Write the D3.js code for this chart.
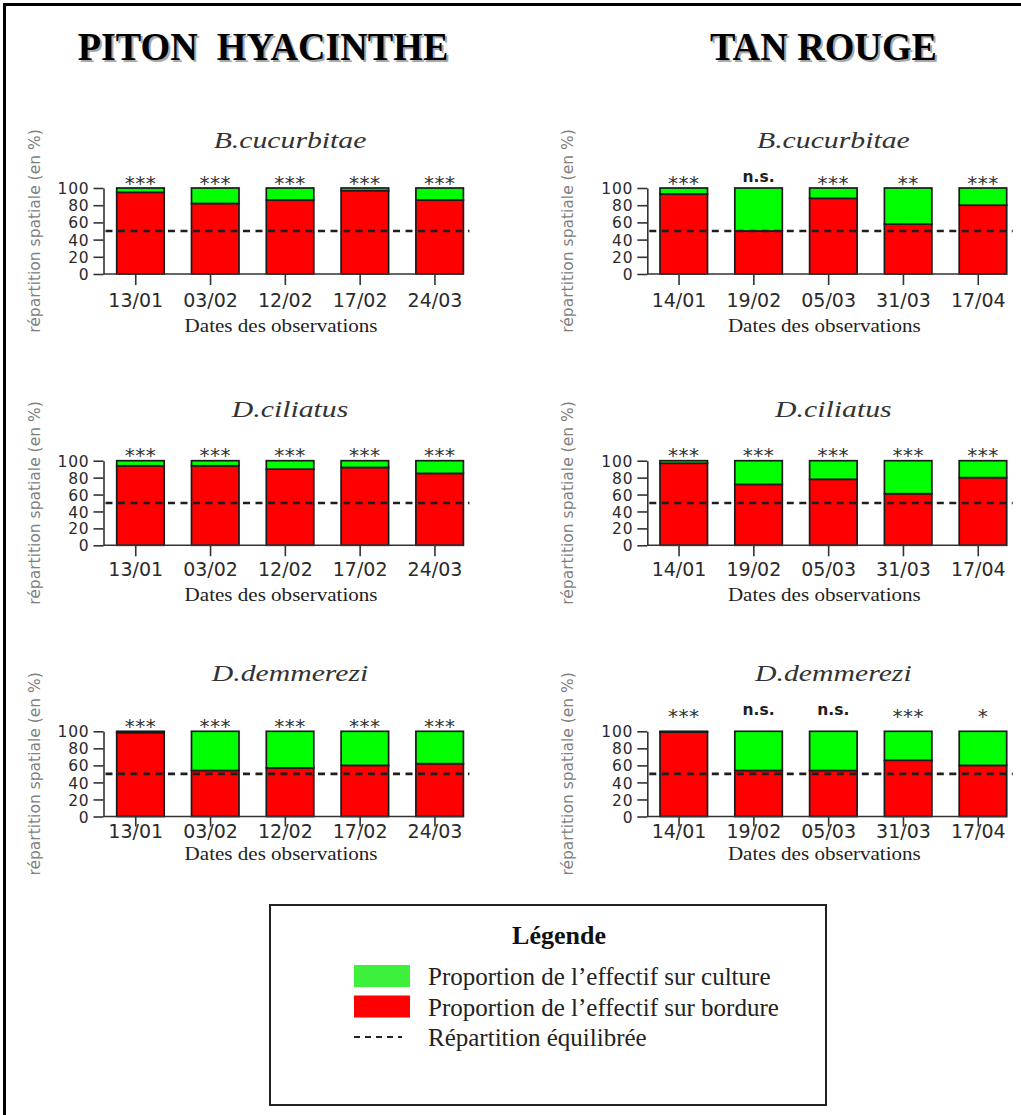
<!DOCTYPE html>
<html>
<head>
<meta charset="utf-8">
<script src="https://cdn.jsdelivr.net/npm/d3@7"></script>
<style>
  html, body { margin: 0; padding: 0; background: #fff; }
  svg { display: block; }
</style>
</head>
<body>
<script>
// ---- Data -------------------------------------------------------------
const sites = ["PITON  HYACINTHE", "TAN ROUGE"];
const species = ["B.cucurbitae", "D.ciliatus", "D.demmerezi"];
const datesPiton = ["13/01", "03/02", "12/02", "17/02", "24/03"];
const datesTan = ["14/01", "19/02", "05/03", "31/03", "17/04"];
const yTicks = [0, 20, 40, 60, 80, 100];
const balanceLevel = 50;

// Share of the population found on the border (%); the rest is on the crop
const pitonBcucurbitae = [95, 82, 86, 97, 86];
const pitonDciliatus = [94, 94, 90, 92, 85];
const pitonDdemmerezi = [98.5, 54, 57, 60, 62];
const tanBcucurbitae = [93, 50, 88, 58, 80];
const tanDciliatus = [97, 72, 78, 61, 80];
const tanDdemmerezi = [99, 54, 54, 66, 60];

// Significance of each date's test
const pitonSigBc = ["***", "***", "***", "***", "***"];
const pitonSigDc = ["***", "***", "***", "***", "***"];
const pitonSigDd = ["***", "***", "***", "***", "***"];
const tanSigBc = ["***", "n.s.", "***", "**", "***"];
const tanSigDc = ["***", "***", "***", "***", "***"];
const tanSigDd = ["***", "n.s.", "n.s.", "***", "*"];

const legendTitle = "Légende";
const legendLabels = [
  "Proportion de l\u2019effectif sur culture",
  "Proportion de l\u2019effectif sur bordure",
  "Répartition équilibrée"
];
const xAxisTitle = "Dates des observations";
const yAxisTitle = "répartition spatiale (en %)";

// ---- Styling / layout -------------------------------------------------
const W = 1021, H = 1115;
const RED = "#ff0000", GREEN = "#00ff00";
const LEGEND_GREEN = "#3cf03c";
const SANS = "'DejaVu Sans', Verdana, sans-serif";
const SERIF = "'Liberation Serif', 'Times New Roman', serif";

const columns = [
  { x0: 116.7, span: 346.7, axisX: 103.5, yTitleDx: 68.5, titleX: 263, dates: datesPiton,
    values: [pitonBcucurbitae, pitonDciliatus, pitonDdemmerezi],
    sig: [pitonSigBc, pitonSigDc, pitonSigDd], lift: [0, 0, 0] },
  { x0: 660, span: 346.7, axisX: 647.3, yTitleDx: 80, titleX: 823.5, dates: datesTan,
    values: [tanBcucurbitae, tanDciliatus, tanDdemmerezi],
    sig: [tanSigBc, tanSigDc, tanSigDd], lift: [0, 0, 10] }
];
const rows = [
  { top: 188, bottom: 274, titleDy: -39.7, tick: 11, tickLabelDy: 32.7, xTitleDy: 57.7 },
  { top: 460.7, bottom: 545.3, titleDy: -44, tick: 11, tickLabelDy: 30.4, xTitleDy: 55.4 },
  { top: 731.3, bottom: 816.5, titleDy: -50.3, tick: 10, tickLabelDy: 21, xTitleDy: 43 }
];

const svg = d3.select("body").append("svg")
  .attr("width", W).attr("height", H)
  .style("background", "#fff");

// Text that is widened horizontally around its anchor point
function wideText(parent, x, y, str, sx) {
  return parent.append("text")
    .attr("transform", `translate(${x},${y}) scale(${sx},1)`)
    .text(str);
}

// ---- Outer frame -------------------------------------------------------
svg.append("rect")
  .attr("x", 4.5).attr("y", 4.5)
  .attr("width", W + 20).attr("height", H + 20)
  .attr("fill", "none").attr("stroke", "#000").attr("stroke-width", 3);

// ---- Site headings -----------------------------------------------------
columns.forEach((col, i) => {
  [["#a8a8a8", 2, 1.5], ["#000", 0, 0]].forEach(([fill, dx, dy]) => {
    wideText(svg, col.titleX + dx, 60 + dy, sites[i], 0.93)
      .attr("text-anchor", "middle")
      .attr("font-family", SERIF).attr("font-weight", "bold")
      .attr("font-size", 41).attr("fill", fill)
      .style("white-space", "pre");
  });
});

// ---- Panels ------------------------------------------------------------
function drawPanel(col, row, si) {
  const dates = col.dates;
  const vals = col.values[si];
  const sig = col.sig[si];
  const lift = col.lift[si];
  const g = svg.append("g");

  const x = d3.scaleBand().domain(dates)
    .range([col.x0, col.x0 + col.span])
    .paddingInner(0.365).paddingOuter(0);
  // the date axis sits slightly left of the bar centres
  const xTick = x.copy().range([col.x0 - 4.7, col.x0 + col.span - 4.7]);
  const y = d3.scaleLinear().domain([0, 100]).range([row.bottom, row.top]);

  const table = dates.map((d, i) => ({ date: d, bordure: vals[i], culture: 100 - vals[i] }));
  const stacked = d3.stack().keys(["bordure", "culture"])(table);
  const colour = { bordure: RED, culture: GREEN };

  g.selectAll("g.layer").data(stacked).join("g")
    .attr("class", "layer")
    .attr("fill", d => colour[d.key])
    .selectAll("rect").data(d => d).join("rect")
    .attr("x", d => x(d.data.date))
    .attr("width", x.bandwidth())
    .attr("y", d => y(d[1]))
    .attr("height", d => y(d[0]) - y(d[1]))
    .attr("stroke", "#1a1a1a").attr("stroke-width", 1.7);

  // balanced-distribution reference line
  g.append("line")
    .attr("x1", col.axisX + 2).attr("x2", col.x0 + col.span + 6)
    .attr("y1", y(balanceLevel)).attr("y2", y(balanceLevel))
    .attr("stroke", "#1e1e1e").attr("stroke-width", 2.6)
    .attr("stroke-dasharray", "7,5.5");

  // y axis
  const ya = g.append("g").attr("transform", `translate(${col.axisX},0)`)
    .call(d3.axisLeft(y).tickValues(yTicks).tickSize(10).tickSizeOuter(0).tickPadding(4));
  ya.select(".domain").attr("stroke", "#333").attr("stroke-width", 1.6);
  ya.selectAll(".tick line").attr("stroke", "#333").attr("stroke-width", 1.6);
  ya.selectAll(".tick text")
    .attr("font-family", SANS).attr("font-size", 15.5).attr("fill", "#2a2a2a")
    .attr("letter-spacing", 0.8)
    .attr("dy", "0.36em");

  // x axis
  const xa = g.append("g").attr("transform", `translate(0,${row.bottom})`)
    .call(d3.axisBottom(xTick).tickSize(row.tick).tickSizeOuter(0));
  xa.select(".domain").remove();
  xa.selectAll(".tick line").attr("stroke", "#333").attr("stroke-width", 1.6);
  xa.selectAll(".tick text")
    .attr("y", row.tickLabelDy).attr("dy", null)
    .attr("font-family", SANS).attr("font-size", 19).attr("fill", "#2a2a2a");
  g.append("line")
    .attr("x1", col.axisX).attr("x2", col.x0 + col.span)
    .attr("y1", row.bottom).attr("y2", row.bottom)
    .attr("stroke", "#333").attr("stroke-width", 1.6);

  // significance marks above the bars
  g.selectAll("text.sig").data(table).join("text")
    .attr("class", "sig")
    .attr("x", d => x(d.date) + x.bandwidth() / 2)
    .attr("y", (d, i) => row.top - lift - (sig[i] === "n.s." ? 6 : -1.5))
    .attr("text-anchor", "middle")
    .attr("font-family", SANS)
    .attr("font-weight", (d, i) => sig[i] === "n.s." ? "bold" : "normal")
    .attr("font-size", (d, i) => sig[i] === "n.s." ? 15.5 : 20)
    .attr("letter-spacing", (d, i) => sig[i] === "n.s." ? 0 : 0.5)
    .attr("fill", (d, i) => sig[i] === "n.s." ? "#1e1e1e" : "#333")
    .text((d, i) => sig[i]);

  const cx = col.x0 + col.span / 2;
  // species name
  wideText(g, cx, row.top + row.titleDy, species[si], 1.24)
    .attr("text-anchor", "middle")
    .attr("font-family", SERIF).attr("font-style", "italic")
    .attr("font-size", 24).attr("fill", "#333");

  // axis titles
  wideText(g, cx - 9, row.bottom + row.xTitleDy, xAxisTitle, 1.17)
    .attr("text-anchor", "middle")
    .attr("font-family", SERIF).attr("font-size", 18).attr("fill", "#222");

  g.append("text")
    .attr("transform", `translate(${col.axisX - col.yTitleDx},${(row.top + row.bottom) / 2}) rotate(-90)`)
    .attr("text-anchor", "middle").attr("dy", "0.35em")
    .attr("font-family", SANS).attr("font-size", 15.5).attr("fill", "#808080")
    .text(yAxisTitle);
}

columns.forEach(col => rows.forEach((row, si) => drawPanel(col, row, si)));

// ---- Legend ------------------------------------------------------------
const lg = svg.append("g");
lg.append("rect")
  .attr("x", 270).attr("y", 905).attr("width", 556).attr("height", 200)
  .attr("fill", "#fff").attr("stroke", "#222").attr("stroke-width", 2);
lg.append("text")
  .attr("x", 559).attr("y", 944).attr("text-anchor", "middle")
  .attr("font-family", SERIF).attr("font-weight", "bold").attr("font-size", 26)
  .attr("fill", "#111").text(legendTitle);

const legendY = d3.scalePoint().domain(legendLabels).range([985, 1046]);
const swatchFill = [LEGEND_GREEN, RED, null];
legendLabels.forEach((lab, i) => {
  const yb = legendY(lab);
  if (swatchFill[i]) {
    lg.append("rect")
      .attr("x", 354).attr("y", yb - 20).attr("width", 56).attr("height", 22)
      .attr("fill", swatchFill[i]);
  } else {
    lg.append("line")
      .attr("x1", 354).attr("x2", 402).attr("y1", yb - 9).attr("y2", yb - 9)
      .attr("stroke", "#222").attr("stroke-width", 2)
      .attr("stroke-dasharray", "6,5");
  }
  lg.append("text")
    .attr("x", 428).attr("y", yb)
    .attr("font-family", SERIF).attr("font-size", 25).attr("fill", "#222")
    .text(lab);
});
</script>
</body>
</html>
